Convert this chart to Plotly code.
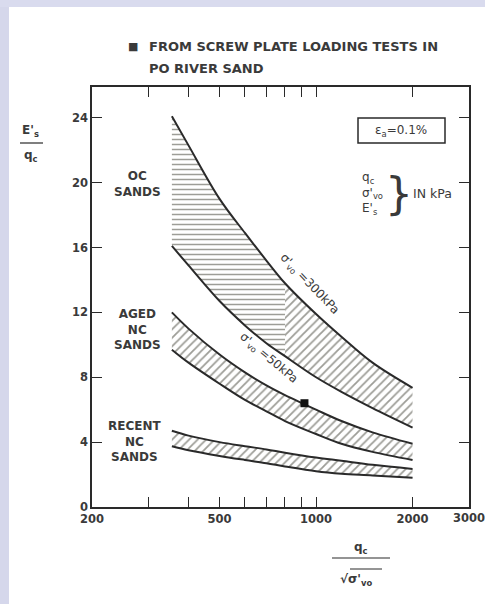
import plotly.graph_objects as go
import math

# ---------------- data ----------------
x_pts = [355, 400, 500, 600, 700, 800, 1000, 1200, 1500, 2000]
oc_upper = [24.1, 22.3, 19.0, 16.9, 15.2, 13.8, 11.9, 10.5, 8.9, 7.35]      # sigma'vo = 300 kPa
oc_lower = [16.1, 14.9, 12.7, 11.2, 10.1, 9.3, 8.0, 7.1, 6.1, 4.9]
aged_upper = [12.0, 11.0, 9.4, 8.3, 7.5, 6.9, 6.0, 5.3, 4.6, 3.9]           # sigma'vo = 50 kPa
aged_lower = [9.7, 8.9, 7.6, 6.6, 5.9, 5.3, 4.5, 3.9, 3.4, 2.9]
recent_upper = [4.7, 4.4, 4.0, 3.75, 3.55, 3.35, 3.05, 2.85, 2.6, 2.35]
recent_lower = [3.75, 3.5, 3.15, 2.9, 2.7, 2.5, 2.2, 2.05, 1.95, 1.8]
screw_x = [920]
screw_y = [6.4]

x_tickvals = [200, 500, 1000, 2000]
x_ticktext = ["200", "500", "1000", "2000"]
x_edge_value = 3000
x_edge_label = "3000"
x_minor = [300, 400, 600, 700, 800, 900]
y_tickvals = [0, 4, 8, 12, 16, 20, 24]
y_ticktext = ["0", "4", "8", "12", "16", "20", "24"]

# ---------------- layout geometry ----------------
W, H = 485, 604
L, R, T, B = 92, 469, 87, 507
FONT = "DejaVu Sans, Verdana, sans-serif"
INK = "#2a2a2a"
TXT = "#3a3a3a"

def px(xp):
    return (xp - L) / (R - L)

def py(yp):
    return (B - yp) / (B - T)

fig = go.Figure()

def band(lower, upper, i0, i1, shape, size):
    xs = x_pts[i0:i1 + 1]
    fig.add_trace(go.Scatter(x=xs, y=lower[i0:i1 + 1], mode="lines",
                             line=dict(width=0, shape="spline"), hoverinfo="skip",
                             showlegend=False))
    fig.add_trace(go.Scatter(x=xs, y=upper[i0:i1 + 1], mode="lines",
                             line=dict(width=0, shape="spline"), fill="tonexty",
                             fillcolor="rgba(0,0,0,0)",
                             fillpattern=dict(shape=shape, size=size, solidity=0.3,
                                              fgcolor="#3c3c30", bgcolor="rgba(255,255,255,0)"),
                             hoverinfo="skip", showlegend=False))

band(oc_lower, oc_upper, 0, 5, "-", 5)
band(oc_lower, oc_upper, 5, 9, "/", 6)
band(aged_lower, aged_upper, 0, 9, "/", 6)
band(recent_lower, recent_upper, 0, 9, "/", 6)

for ys in [oc_upper, oc_lower, aged_upper, aged_lower, recent_upper, recent_lower]:
    fig.add_trace(go.Scatter(x=x_pts, y=ys, mode="lines",
                             line=dict(color=INK, width=2, shape="spline"),
                             hoverinfo="skip", showlegend=False))

fig.add_trace(go.Scatter(x=screw_x, y=screw_y, mode="markers",
                         marker=dict(symbol="square", size=8, color="#111"),
                         showlegend=False))

axis_common = dict(showline=True, linecolor=INK, linewidth=1.6, mirror="allticks",
                   ticks="inside", tickcolor=INK, tickwidth=1.4, ticklen=10,
                   showgrid=False, zeroline=False,
                   tickfont=dict(family=FONT, size=11.5, color=TXT, weight="bold"))

fig.update_xaxes(type="log", range=[math.log10(200), math.log10(3000)],
                 tickvals=x_tickvals, ticktext=x_ticktext,
                 minor=dict(tickvals=x_minor, ticks="inside", ticklen=10,
                            tickcolor=INK, tickwidth=1.2, showgrid=False),
                 **axis_common)
fig.update_yaxes(range=[0, 25.9], tickvals=y_tickvals, ticktext=y_ticktext,
                 **axis_common)

ann = []

def text(x, y, t, size=11.5, align="center", xanchor="center", angle=0, bold=True, **kw):
    ann.append(dict(x=px(x), y=py(y), xref="paper", yref="paper", text=t,
                    showarrow=False, xanchor=xanchor, yanchor="middle", align=align,
                    textangle=angle,
                    font=dict(family=FONT, size=size, color=TXT,
                              weight="bold" if bold else "normal"), **kw))

# x-axis end label (log axis: annotation x is given in log10 units)
ann.append(dict(x=math.log10(x_edge_value), xref="x", y=py(518), yref="paper",
                text=x_edge_label, showarrow=False, xanchor="center", yanchor="middle",
                font=dict(family=FONT, size=11.5, color=TXT, weight="bold")))

# title
text(133, 47, "■", size=11)
text(147, 47, "FROM SCREW PLATE LOADING TESTS IN", size=13, xanchor="left", align="left")
text(147, 69, "PO RIVER SAND", size=13, xanchor="left", align="left")

# region labels
text(137, 184, "OC<br>SANDS", size=12)
text(137, 329, "AGED<br>NC<br>SANDS", size=12)
text(134, 441, "RECENT<br>NC<br>SANDS", size=12)

# curve labels
text(309, 284, "σ'<sub>vo</sub> =300kPa", size=12, angle=46, bold=False)
text(268, 358, "σ'<sub>vo</sub> =50kPa", size=12, angle=40, bold=False)

# strain box
text(401, 131, "ε<sub>a</sub>=0.1%", size=12, bold=False)

# units legend
text(372, 193, "q<sub>c</sub><br>σ'<sub>vo</sub><br>E'<sub>s</sub>", size=12, align="left", bold=False)
text(399, 193, "}", size=44, bold=False)
text(432, 193, "IN kPa", size=12.5, bold=False)

# y axis title
text(31, 131, "E'<sub>s</sub>", size=12)
text(31, 156, "q<sub>c</sub>", size=12)

# x axis title
text(361, 548, "q<sub>c</sub>", size=12)
text(356, 580, "√σ'<sub>vo</sub>", size=12)

shapes = [
    # page background strips
    dict(type="rect", xref="paper", yref="paper", x0=px(0), x1=px(9), y0=py(H), y1=py(0),
         fillcolor="#d5d7eb", line=dict(width=0), layer="below"),
    dict(type="rect", xref="paper", yref="paper", x0=px(0), x1=px(W), y0=py(7), y1=py(0),
         fillcolor="#d9dbee", line=dict(width=0), layer="below"),
    # strain box
    dict(type="rect", xref="paper", yref="paper", x0=px(358), x1=px(445), y0=py(143), y1=py(118),
         line=dict(color=INK, width=1.5)),
    # y title fraction bar
    dict(type="line", xref="paper", yref="paper", x0=px(20), x1=px(43), y0=py(143), y1=py(143),
         line=dict(color=INK, width=1.2)),
    # x title fraction bar
    dict(type="line", xref="paper", yref="paper", x0=px(332), x1=px(390), y0=py(558), y1=py(558),
         line=dict(color=INK, width=1.2)),
    # sqrt overline
    dict(type="line", xref="paper", yref="paper", x0=px(350), x1=px(382), y0=py(569), y1=py(569),
         line=dict(color=INK, width=1)),
]

fig.update_layout(width=W, height=H, autosize=False,
                  margin=dict(l=L, r=W - R, t=T, b=H - B, autoexpand=False),
                  paper_bgcolor="white", plot_bgcolor="white",
                  annotations=ann, shapes=shapes, showlegend=False)

post = ("document.documentElement.style.overflow='hidden';"
        "document.body.style.margin='0';document.body.style.overflow='hidden';"
        "Plotly.relayout('{plot_id}', {width: 485, height: 604});")

fig.write_html("out.html", config={"responsive": False}, post_script=post)
